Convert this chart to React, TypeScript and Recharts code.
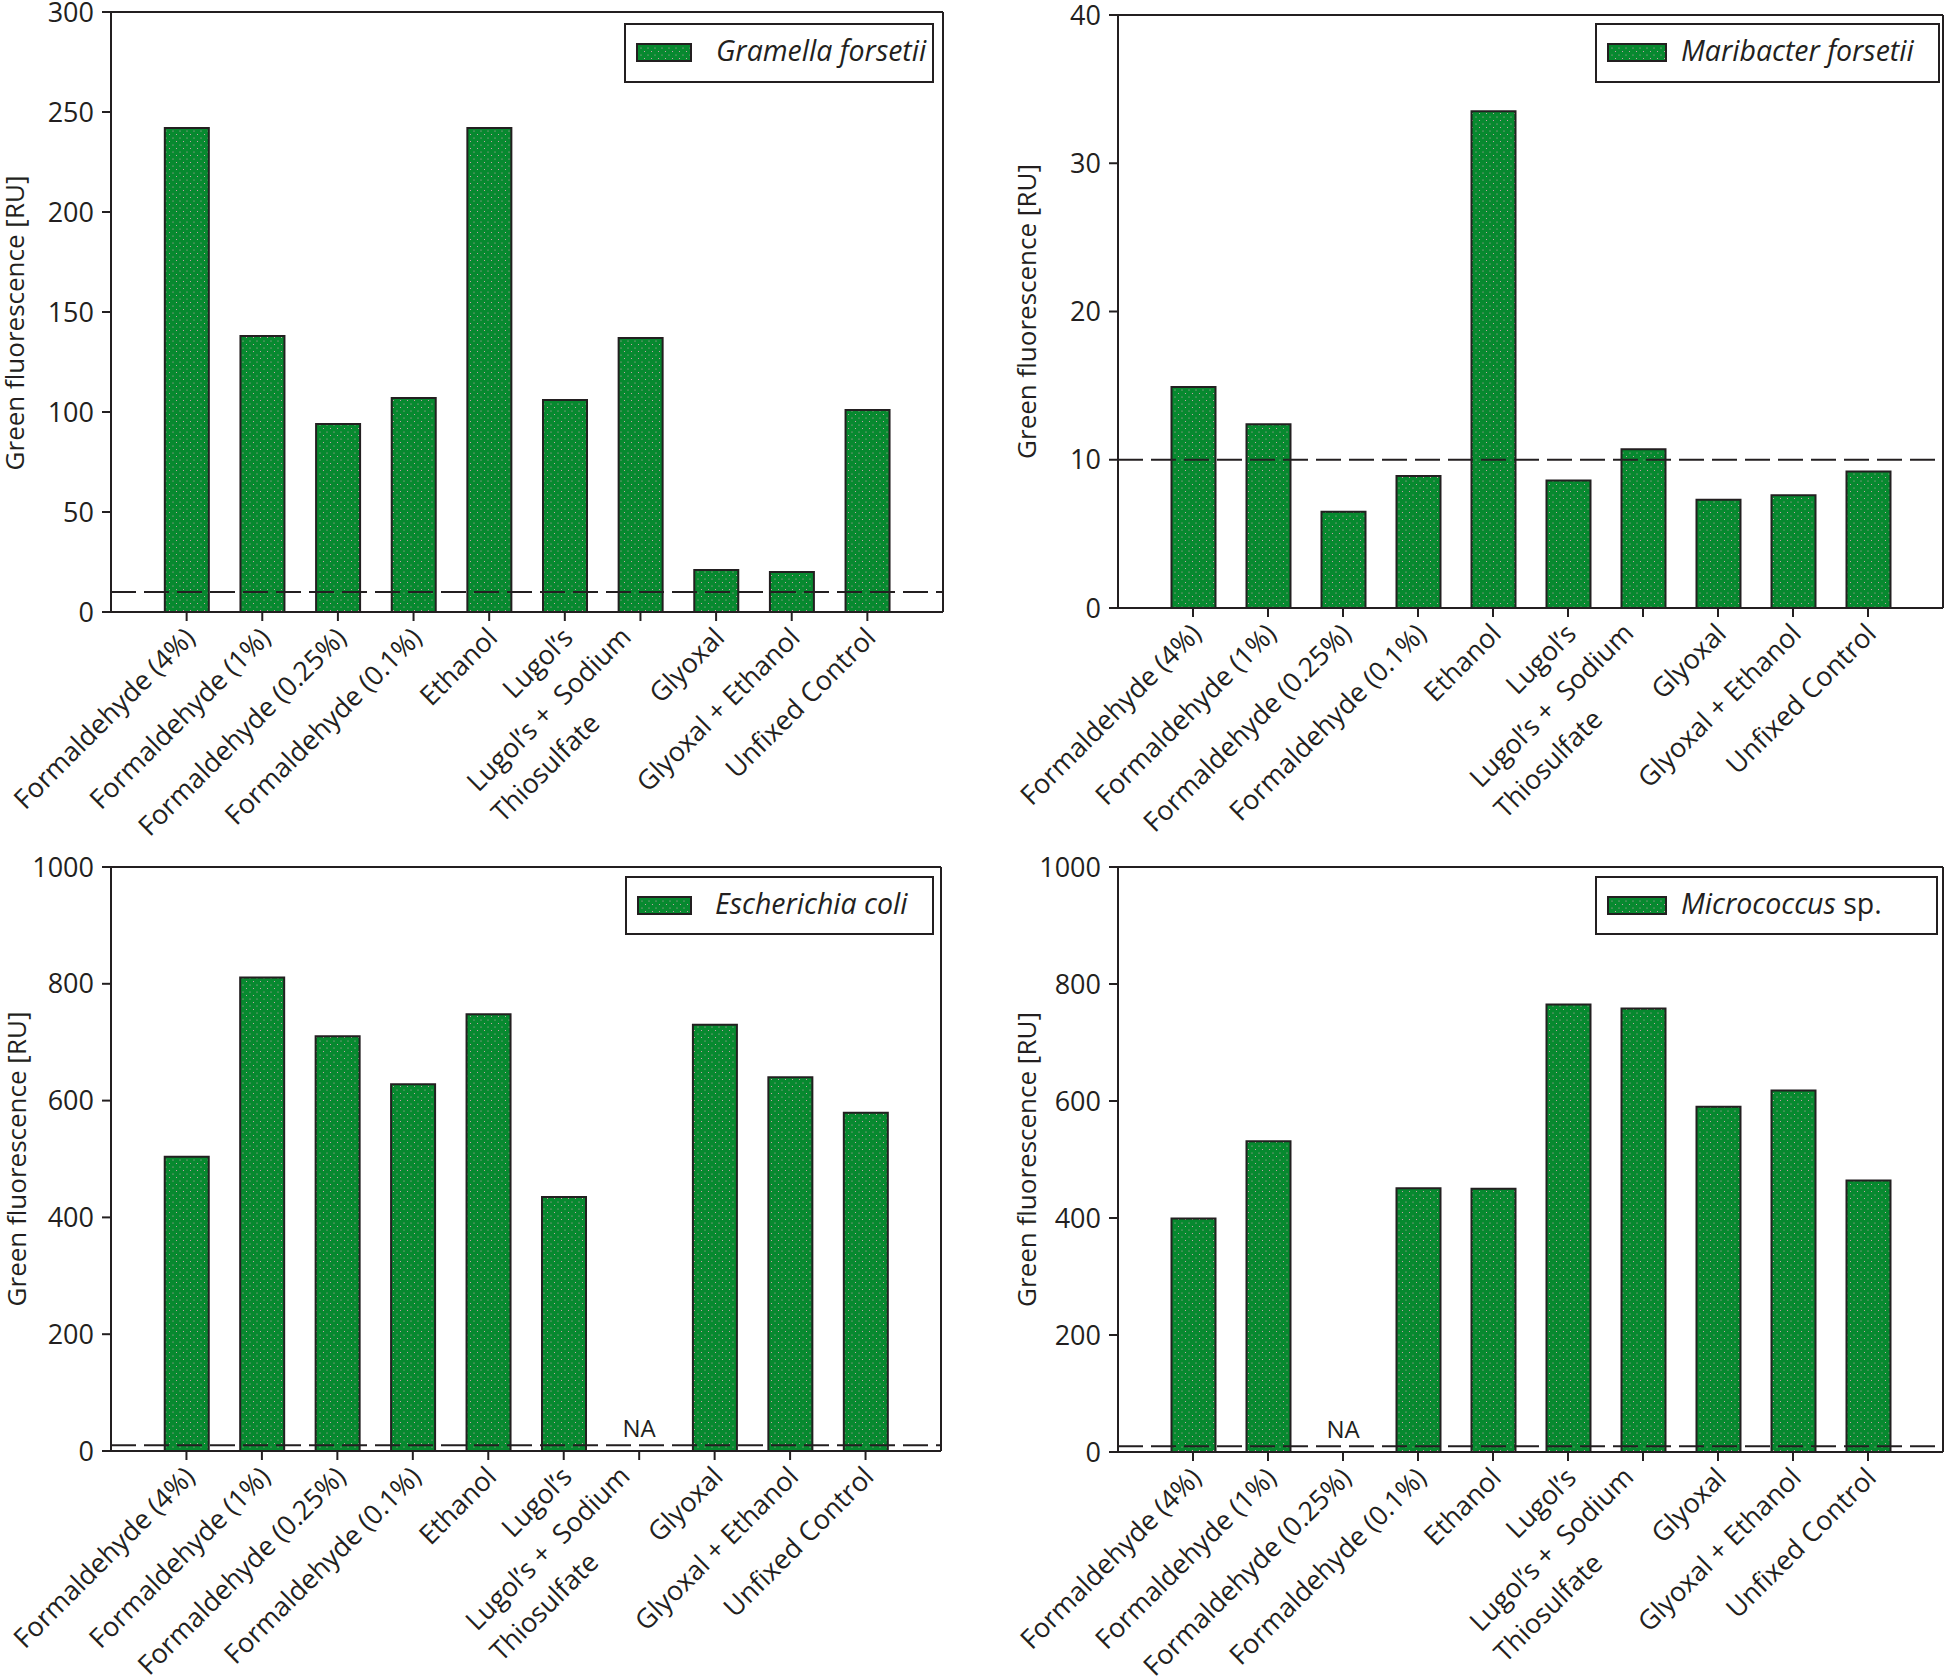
import React from 'react';
import {
  BarChart, Bar, XAxis, YAxis, Label, Legend,
  ReferenceLine, ReferenceDot,
} from 'recharts';

// treatments, one bar each (\n = second line of the tick label)
const CATEGORIES = [
  'Formaldehyde (4%)',
  'Formaldehyde (1%)',
  'Formaldehyde (0.25%)',
  'Formaldehyde (0.1%)',
  'Ethanol',
  'Lugol’s',
  'Lugol’s +  Sodium\nThiosulfate',
  'Glyoxal',
  'Glyoxal + Ethanol',
  'Unfixed Control',
];

// green fluorescence [RU]; null = not analysed (NA)
const GRAMELLA = [242, 138, 94, 107, 242, 106, 137, 21, 20, 101];
const MARIBACTER = [14.9, 12.4, 6.5, 8.9, 33.5, 8.6, 10.7, 7.3, 7.6, 9.2];
const ECOLI = [504, 811, 710, 628, 748, 435, null, 730, 640, 579];
const MICROCOCCUS = [399, 531, null, 451, 450, 765, 758, 590, 618, 464];

const TICKS_GRAMELLA = [0, 50, 100, 150, 200, 250, 300];
const TICKS_MARIBACTER = [0, 10, 20, 30, 40];
const TICKS_BIG = [0, 200, 400, 600, 800, 1000];

const THRESHOLD = 10;

const INK = '#231f20';
const GREEN = '#07892f';
const DOT = '#e9a6c0';
const FONT = '"Open Sans", "DejaVu Sans", sans-serif';

// margins already allow 1px for the frame axes on top and right
const PANELS = [
  {
    id: 'gf', species: 'Gramella forsetii', suffix: '', values: GRAMELLA, ticks: TICKS_GRAMELLA,
    left: 0, top: 0, width: 960, margin: { top: 11, right: 16, left: 0, bottom: 0 },
    yAxisW: 111, xAxisH: 228, labelX: 24, labelDy: 11,
    legend: { left: 624, top: 23, width: 310, height: 60, swatchW: 56, textLeft: 90 },
  },
  {
    id: 'mf', species: 'Maribacter forsetii', suffix: '', values: MARIBACTER, ticks: TICKS_MARIBACTER,
    left: 960, top: 0, width: 987, margin: { top: 14, right: 3, left: 0, bottom: 0 },
    yAxisW: 158, xAxisH: 232, labelX: 76, labelDy: 0,
    legend: { left: 635, top: 23, width: 345, height: 60, swatchW: 60, textLeft: 84 },
  },
  {
    id: 'ec', species: 'Escherichia coli', suffix: '', values: ECOLI, ticks: TICKS_BIG,
    left: 0, top: 840, width: 960, margin: { top: 26, right: 18, left: 0, bottom: 0 },
    yAxisW: 111, xAxisH: 229, labelX: 26, labelDy: 0,
    legend: { left: 625, top: 36, width: 309, height: 59, swatchW: 55, textLeft: 88 },
  },
  {
    id: 'mc', species: 'Micrococcus', suffix: ' sp.', values: MICROCOCCUS, ticks: TICKS_BIG,
    left: 960, top: 840, width: 987, margin: { top: 26, right: 3, left: 0, bottom: 0 },
    yAxisW: 158, xAxisH: 228, labelX: 76, labelDy: 0,
    legend: { left: 635, top: 36, width: 343, height: 59, swatchW: 60, textLeft: 84 },
  },
];

const CHART_H = 840;

function DotPattern({ id }: { id: string }) {
  return (
    <pattern id={id} width={7} height={7} patternUnits="userSpaceOnUse">
      <rect width={7} height={7} fill={GREEN} />
      <circle cx={1.5} cy={1.5} r={0.55} fill={DOT} />
      <circle cx={5} cy={5} r={0.55} fill={DOT} />
    </pattern>
  );
}

function CategoryTick(props: any) {
  const { x, y, payload } = props;
  const lines = String(payload.value).split('\n');
  const multi = lines.length > 1;
  return (
    <g transform={`translate(${x},${y}) rotate(-45)`}>
      {lines.map((line, i) => (
        <text
          key={i}
          x={multi ? -18 - i * 83 : -6}
          y={multi ? 7 + i * 39 : 20}
          textAnchor="end"
          fontSize={27}
          fontFamily={FONT}
          fill={INK}
          style={{ whiteSpace: 'pre' }}
        >
          {line}
        </text>
      ))}
    </g>
  );
}

function SpeciesLegend({ id, name, suffix, swatchW, textLeft }: any) {
  return (
    <div
      style={{
        position: 'relative', width: '100%', height: '100%', boxSizing: 'border-box',
        border: `2px solid ${INK}`, background: '#fff', fontFamily: FONT, color: INK,
      }}
    >
      <svg style={{ position: 'absolute', left: 10, top: 18 }} width={swatchW} height={19}>
        <defs>
          <DotPattern id={`leg-${id}`} />
        </defs>
        <rect x={1} y={1} width={swatchW - 2} height={17} fill={`url(#leg-${id})`} stroke={INK} strokeWidth={2} />
      </svg>
      <span style={{ position: 'absolute', left: textLeft, top: 11, fontSize: 28.5, lineHeight: '28px', whiteSpace: 'nowrap' }}>
        <i>{name}</i>{suffix}
      </span>
    </div>
  );
}

function Panel(p: (typeof PANELS)[number]) {
  const data = CATEGORIES.map((cat, i) => ({ cat, value: p.values[i] }));
  const plotW = p.width - p.yAxisW - p.margin.right - 1;
  const pad = plotW / 22;
  const yMax = p.ticks[p.ticks.length - 1];
  const missing = data.filter((d) => d.value === null);
  const line = { stroke: INK, strokeWidth: 2 };

  return (
    <div style={{ position: 'absolute', left: p.left, top: p.top }}>
      <BarChart width={p.width} height={CHART_H} data={data} margin={p.margin}>
        <defs>
          <DotPattern id={`bar-${p.id}`} />
        </defs>
        <XAxis
          dataKey="cat"
          interval={0}
          height={p.xAxisH}
          padding={{ left: pad, right: pad }}
          tickSize={9}
          tickMargin={0}
          axisLine={line}
          tickLine={line}
          tick={<CategoryTick />}
        />
        {/* frame: top and right edges */}
        <XAxis xAxisId="top" orientation="top" dataKey="cat" height={1} tick={false} tickLine={false} axisLine={line} />
        <YAxis yAxisId="right" orientation="right" width={1} domain={[0, yMax]} tick={false} tickLine={false} axisLine={line} />
        <YAxis
          type="number"
          domain={[0, yMax]}
          ticks={p.ticks}
          interval={0}
          width={p.yAxisW}
          tickSize={9}
          tickMargin={8}
          axisLine={line}
          tickLine={line}
          tick={{ fontSize: 27, fill: INK, fontFamily: FONT }}
        >
          <Label
            content={(lp: any) => {
              const vb = lp.viewBox || {};
              const cx = (vb.x || 0) + p.labelX;
              const cy = (vb.y || 0) + (vb.height || 0) / 2 + p.labelDy;
              return (
                <text
                  x={cx}
                  y={cy}
                  transform={`rotate(-90, ${cx}, ${cy})`}
                  textAnchor="middle"
                  fontSize={26}
                  fontFamily={FONT}
                  fill={INK}
                >
                  Green fluorescence [RU]
                </text>
              );
            }}
          />
        </YAxis>
        <Bar
          dataKey="value"
          fill={`url(#bar-${p.id})`}
          stroke={INK}
          strokeWidth={2}
          barSize={44}
          isAnimationActive={false}
        />
        <ReferenceLine y={THRESHOLD} stroke={INK} strokeWidth={2} strokeDasharray="25 8" />
        {missing.map((d) => (
          <ReferenceDot
            key={d.cat}
            x={d.cat}
            y={0}
            r={0}
            fill="none"
            stroke="none"
            label={{ value: 'NA', position: 'top', offset: 14, fontSize: 24, fill: INK, fontFamily: FONT }}
          />
        ))}
        <Legend
          verticalAlign="middle"
          align="center"
          layout="horizontal"
          wrapperStyle={{ left: p.legend.left, top: p.legend.top, width: p.legend.width, height: p.legend.height }}
          content={() => (
            <SpeciesLegend
              id={p.id}
              name={p.species}
              suffix={p.suffix}
              swatchW={p.legend.swatchW}
              textLeft={p.legend.textLeft}
            />
          )}
        />
      </BarChart>
    </div>
  );
}

export default function App() {
  return (
    <div style={{ position: 'absolute', left: 0, top: 0, width: 1947, height: 1680, background: '#fff' }}>
      {PANELS.map((p) => (
        <Panel key={p.id} {...p} />
      ))}
    </div>
  );
}
